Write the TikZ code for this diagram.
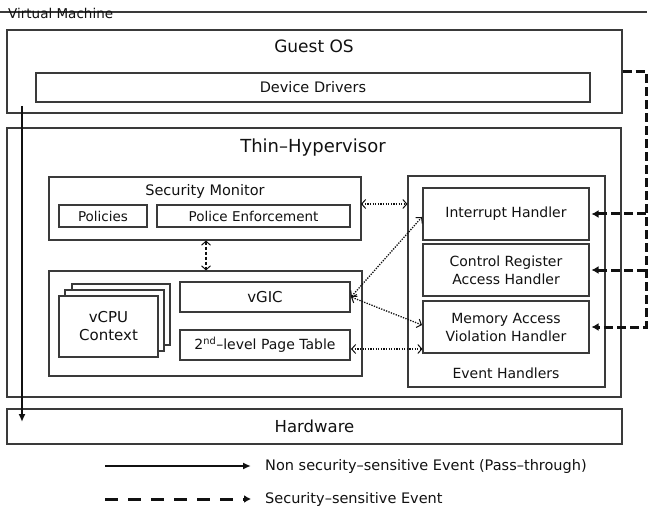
\documentclass[tikz,border=0pt]{standalone}
\usepackage{fontspec}
\setmainfont{DejaVu Sans}
\usetikzlibrary{arrows.meta,fit,calc}
\definecolor{boxgray}{HTML}{3A3A3A}
\definecolor{ink}{HTML}{111111}

\begin{document}
\begin{tikzpicture}[x=1pt,y=-1pt,
  fs/.style={font=\fontsize{#1}{18}\selectfont},
  box/.style={draw=boxgray, line width=1.1pt, inner sep=0pt},
  txt/.style={inner sep=0pt, text=ink, align=center},
  dotarrow/.style={draw=ink, line width=1.3pt, dash pattern=on 1.3pt off 1.3pt,
    {Straight Barb[length=4pt,width=9pt,line width=1pt]}-{Straight Barb[length=4pt,width=9pt,line width=1pt]}},
  dasharrow/.style={draw=ink, line width=1.2pt, dash pattern=on 3pt off 2pt,
    {Straight Barb[length=4pt,width=9pt,line width=1pt]}-{Straight Barb[length=4pt,width=9pt,line width=1pt]}},
  passev/.style={draw=ink, line width=2pt, -{Latex[length=8pt,width=7pt]}},
  secev/.style={draw=ink, line width=3pt, dash pattern=on 9pt off 4pt,
    -{Latex[length=7pt,width=8pt]}},
]
\useasboundingbox (0,0) rectangle (648,513);

% virtual machine frame line and its label
\coordinate (vmL) at (0,12);
\coordinate (vmR) at (647,12);
\draw[draw=boxgray, line width=1.1pt] (vmL) -- (vmR);
\node[txt, fs=13.5, anchor=base west] (vmlabel) at (8,19) {Virtual Machine};

% guest OS
\node[box, fit={(7,30) (622,113)}] (guest) {};
\node[txt, fs=17] (guesttitle) at (314,46) {Guest OS};
\node[box, fit={(36,73) (590,102)}] (drivers) {};
\node[txt, fs=14.5] (driverstext) at (drivers.center) {Device Drivers};

% thin hypervisor
\node[box, fit={(7,128) (621,397)}] (hyp) {};
\node[txt, fs=18] (hyptitle) at (313,148) {Thin–Hypervisor};

% security monitor
\node[box, fit={(49,177) (361,240)}] (secmon) {};
\node[txt, fs=14.5] (sectitle) at (205,192) {Security Monitor};
\node[box, fit={(59,205) (147,227)}] (policies) {};
\node[txt, fs=13.5] (policiestext) at (policies.center) {Policies};
\node[box, fit={(157,205) (350,227)}] (enforce) {};
\node[txt, fs=13.5] (enforcetext) at (enforce.center) {Police Enforcement};

% virtualization core: vCPU stack, vGIC, page table
\node[box, fit={(49,271) (362,376)}] (core) {};
\node[box, fill=white, fit={(72,284) (170,345)}] (vcpu3) {};
\node[box, fill=white, fit={(65,290) (164,351)}] (vcpu2) {};
\node[box, fill=white, fit={(59,296) (158,357)}] (vcpu) {};
\node[txt, fs=15] (vcputext) at (vcpu.center) {vCPU\\Context};
\node[box, fit={(180,282) (350,312)}] (vgic) {};
\node[txt, fs=15] (vgictext) at (vgic.center) {vGIC};
\node[box, fit={(180,330) (350,360)}] (pt) {};
\node[txt, fs=14] (pttext) at (pt.center) {2\textsuperscript{nd}–level Page Table};

% event handlers
\node[box, fit={(408,176) (605,387)}] (events) {};
\node[txt, fs=14] (evtitle) at (506,373) {Event Handlers};
\node[box, fit={(423,188) (589,240)}] (irq) {};
\node[txt, fs=14] (irqtext) at (irq.center) {Interrupt Handler};
\node[box, fit={(423,244) (589,296)}] (creg) {};
\node[txt, fs=14] (cregtext) at (creg.center) {Control Register\\Access Handler};
\node[box, fit={(423,301) (589,353)}] (mem) {};
\node[txt, fs=14] (memtext) at (mem.center) {Memory Access\\Violation Handler};

% hardware
\node[box, fit={(7,409) (622,444)}] (hw) {};
\node[txt, fs=16.5] (hwtext) at (hw.center) {Hardware};

% internal interactions
\coordinate (smE) at (361,204);
\draw[dotarrow] (smE) -- (smE -| events.west);
\draw[dasharrow] (secmon.south -| 206,0) -- (core.north -| 206,0);
\coordinate (vgA) at (351,297);
\coordinate (irqA) at (422,217);
\coordinate (memA) at (422,325);
\coordinate (ptA) at (351,349);
\draw[dotarrow] (vgA) -- (irqA);
\draw[dotarrow] (vgA) -- (memA);
\draw[dotarrow] (ptA) -- (ptA -| mem.west);

% pass-through path from the guest to the hardware
\coordinate (ptStart) at (22,106);
\coordinate (ptEnd) at (22,422);
\draw[passev] (ptStart) -- (ptEnd);

% security-sensitive events trapped into the handlers
\coordinate (bus) at (646,71.5);
\draw[secev] (guest.east) -- (bus) -- (bus |- mem.east) -- ([xshift=2pt]mem.east);
\draw[secev] (bus |- irq.east) -- ([xshift=2pt]irq.east);
\draw[secev] (bus |- creg.east) -- ([xshift=2pt]creg.east);

% legend
\node[txt, fs=14.5, anchor=west] (leg1) at (265,466) {Non security–sensitive Event (Pass–through)};
\node[txt, fs=14.5, anchor=west] (leg2) at (265,499) {Security–sensitive Event};
\coordinate (leg1s) at (105,466);
\coordinate (leg2s) at (105,499);
\draw[passev] (leg1s) -- ($(leg1.west)+(-14,0)$);
\draw[draw=ink, line width=3pt, dash pattern=on 13pt off 10pt, -{Latex[length=7pt,width=8pt]}]
  (leg2s) -- ($(leg2.west)+(-14,0)$);
\end{tikzpicture}
\end{document}
